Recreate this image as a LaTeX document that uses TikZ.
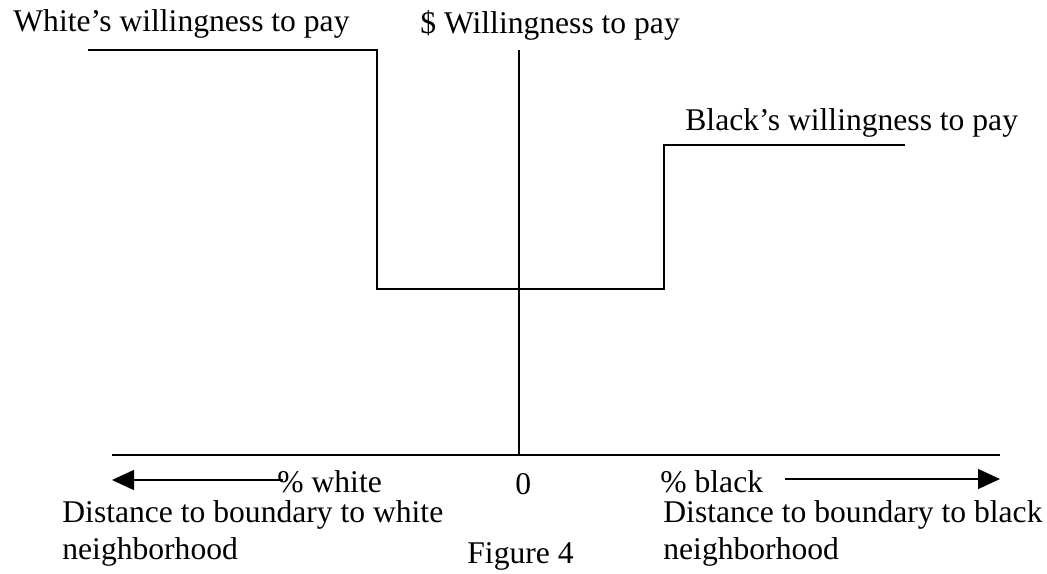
\documentclass[tikz,border=0pt]{standalone}
\usepackage{fontspec}
\setmainfont{Liberation Serif}
\usetikzlibrary{arrows.meta}
\tikzset{
  lbl/.style={anchor=base west,inner sep=0pt,font=\fontsize{15.8}{18.5}\selectfont},
  curve/.style={line width=0.6pt},
  dirarrow/.style={line width=0.6pt,-{Triangle[length=11pt,width=10pt]}}
}

\begin{document}
\begin{tikzpicture}[x=0.5pt,y=-0.5pt]
            \useasboundingbox (0,0) rectangle (1047,573);

            % axes
            \coordinate (ytop) at (519,50);
            \coordinate (ybot) at (519,455);
            \coordinate (xleft) at (112,455);
            \coordinate (xright) at (1000,455);
            \draw[curve] (ytop) -- (ybot);
            \draw[curve] (xleft) -- (xright);

            % willingness to pay
            \coordinate (w1) at (88,50);
            \coordinate (w2) at (377,50);
            \coordinate (w3) at (377,289);
            \coordinate (b1) at (664,289);
            \coordinate (b2) at (664,145);
            \coordinate (b3) at (905,145);
            \draw[curve] (w1) -- (w2) -- (w3) -- (b1) -- (b2) -- (b3);

            \node[lbl] (wlab) at (13,32) {White’s willingness to pay};
            \node[lbl] (ylab) at (420,33) {\$ Willingness to pay};
            \node[lbl] (blab) at (685,130) {Black’s willingness to pay};

            % bottom labels
            \node[lbl] (pw) at (277,492) {\% white};
            \node[lbl] (zero) at (515,494) {0};
            \node[lbl] (pb) at (660,492) {\% black};
            \node[lbl,align=left] (dw) at (62,559) {Distance to boundary to white\\neighborhood};
            \node[lbl,align=left] (db) at (663,559) {Distance to boundary to black\\neighborhood};
            \node[lbl] (fig) at (467,563) {Figure 4};

            \coordinate (lw) at (112,480);
            \coordinate (rb) at (1000,479);
            \draw[dirarrow] (pw.west |- lw) ++(6,0) -- (lw);
            \draw[dirarrow] (785,479) -- (rb);
        \end{tikzpicture}
\end{document}
